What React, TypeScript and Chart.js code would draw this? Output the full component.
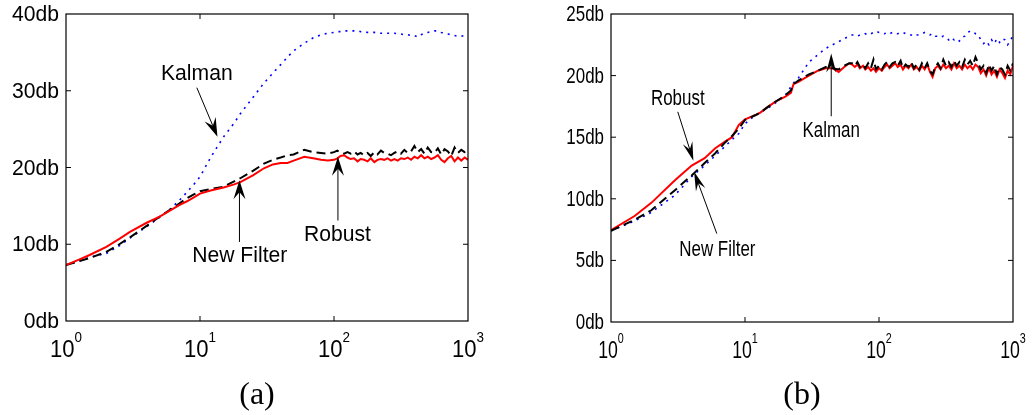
import React, { useEffect, useRef } from 'react';
import { Chart, registerables } from 'chart.js';
Chart.register(...registerables);

// ---------- data: panel (a) ----------
const leftX = [1, 1.25, 1.5, 2, 2.5, 3, 4, 5, 6, 7, 8, 9, 10, 12, 15, 18, 20, 25, 30, 35, 40, 45, 50, 60, 70, 80, 90, 100,
  106, 112, 119, 126, 133, 141, 150, 158, 168, 178, 188, 200, 211, 224, 237, 251, 266, 282, 299, 316, 335, 355, 376, 398,
  422, 447, 473, 501, 531, 562, 596, 631, 668, 708, 750, 794, 841, 891, 944, 1000];
const leftRobust = [7.3, 8.0, 8.6, 9.65, 10.7, 11.6, 12.8, 13.6, 14.4, 15.1, 15.6, 16.1, 16.6, 17.0, 17.4, 17.8, 18.1, 19.0, 19.9, 20.4, 20.6, 20.6, 20.9, 21.4, 21.2, 21.0, 20.9, 21.0,
  21.2, 21.5, 21.6, 21.3, 21.1, 21.2, 20.8, 21.1, 21.0, 20.8, 21.2, 20.7, 21.0, 21.1, 21.0, 21.2, 20.9, 21.1, 20.9, 21.2, 21.1, 21.3, 21.0, 21.4,
  21.2, 21.6, 21.2, 21.4, 21.1, 21.3, 21.6, 21.0, 20.7, 21.2, 21.5, 20.8, 21.3, 20.9, 21.3, 21.0];
const leftNewFilter = [7.3, 7.8, 8.2, 9.0, 10.0, 10.9, 12.4, 13.6, 14.5, 15.3, 16.0, 16.5, 16.9, 17.2, 17.5, 18.2, 18.6, 19.6, 20.5, 21.0, 21.3, 21.6, 21.7, 22.3, 22.0, 21.9, 21.8, 22.0,
  22.2, 21.9, 21.8, 22.0, 21.8, 22.1, 21.7, 21.9, 21.6, 21.9, 21.5, 22.0, 21.7, 22.2, 21.9, 21.8, 21.6, 21.9, 22.1, 21.8, 22.3, 21.9, 22.1, 22.8,
  22.0, 22.4, 21.8, 22.6, 22.0, 21.9, 22.5, 21.7, 22.4, 22.1, 21.5, 22.6, 21.9, 22.3, 22.0, 22.1];
const leftKalman = [7.3, 7.8, 8.3, 8.8, 9.8, 10.8, 12.3, 13.5, 14.6, 15.7, 16.8, 17.8, 18.8, 21.3, 24.0, 25.8, 27.0, 29.2, 31.0, 32.3, 33.4, 34.4, 35.2, 36.2, 36.9, 37.3, 37.5, 37.6,
  37.7, 37.7, 37.8, 37.8, 37.8, 37.8, 37.8, 37.7, 37.7, 37.6, 37.6, 37.6, 37.5, 37.5, 37.5, 37.5, 37.5, 37.5, 37.4, 37.4, 37.3, 37.3, 37.2, 37.2,
  37.0, 37.3, 37.5, 37.6, 37.7, 37.8, 37.8, 37.6, 37.5, 37.4, 37.3, 37.2, 37.1, 37.1, 37.2, 37.2];

// ---------- data: panel (b) ----------
const rightX = [1, 1.5, 2, 3, 4, 5, 6, 7, 8, 9, 10, 12, 13, 15, 17, 20, 22, 23, 25, 30, 35, 40, 45, 50, 55, 60,
  63, 66, 69, 72, 76, 79, 83, 87, 91, 95, 100, 105, 110, 115, 120, 126, 132, 138, 145, 151, 158, 166, 174, 182, 191,
  200, 209, 219, 229, 240, 251, 263, 275, 288, 302, 316, 331, 347, 363, 380, 398, 417, 437, 457, 479, 501, 525, 550,
  575, 603, 631, 661, 692, 724, 759, 794, 832, 871, 912, 955, 1000];
const rightRobust = [7.45, 8.6, 9.67, 11.5, 12.7, 13.3, 14.1, 14.6, 15.0, 16.0, 16.45, 16.8, 17.0, 17.5, 17.9, 18.3, 18.6, 19.3, 19.5, 20.0, 20.4, 20.6, 20.6, 20.3, 20.7, 21.0,
  20.9, 20.7, 20.9, 20.6, 20.8, 20.5, 20.7, 20.4, 20.6, 20.3, 20.6, 20.4, 20.7, 20.9, 20.6, 20.8, 21.0, 20.7, 20.9, 20.5,
  20.8, 20.6, 20.9, 20.5, 20.7, 20.4, 20.8, 20.5, 20.9, 20.3, 19.9, 20.6, 20.8, 20.5, 20.9, 20.6, 20.8, 20.5, 21.0, 20.6,
  20.8, 20.5, 20.9, 20.6, 20.8, 20.5, 20.9, 20.7, 20.2, 20.5, 20.0, 20.6, 20.1, 20.4, 19.9, 20.5, 20.2, 19.8, 20.4, 20.1, 20.8];
const rightNewFilter = [7.4, 8.3, 9.07, 10.7, 11.9, 12.9, 13.7, 14.5, 15.1, 15.7, 16.4, 16.8, 17.0, 17.5, 17.9, 18.4, 18.8, 19.3, 19.6, 20.1, 20.4, 20.7, 20.6, 20.5, 20.8, 21.0,
  21.0, 20.8, 21.1, 20.7, 20.9, 20.6, 21.0, 20.6, 21.3, 20.5, 20.8, 20.5, 20.9, 21.1, 20.7, 21.0, 21.1, 20.8, 21.2, 20.6,
  20.9, 20.7, 21.1, 20.6, 20.9, 20.5, 21.0, 20.6, 21.0, 20.4, 20.1, 20.7, 21.0, 20.6, 21.3, 20.8, 21.1, 20.7, 21.2, 20.8,
  21.1, 20.7, 21.3, 20.9, 21.2, 20.8, 21.5, 21.0, 20.5, 20.8, 20.2, 20.9, 20.4, 20.8, 20.1, 20.7, 20.5, 20.1, 20.8, 20.4, 21.0];
const rightKalman = [7.4, 8.2, 8.9, 10.3, 11.8, 12.7, 13.5, 14.2, 14.8, 15.3, 16.1, 16.8, 17.0, 17.4, 17.8, 18.4, 19.1, 19.4, 19.8, 21.1, 21.7, 22.2, 22.5, 22.75, 23.0, 23.2,
  23.3, 23.3, 23.2, 23.3, 23.3, 23.4, 23.3, 23.4, 23.5, 23.6, 23.5, 23.5, 23.4, 23.5, 23.4, 23.5, 23.4, 23.4, 23.5, 23.5,
  23.4, 23.3, 23.3, 23.2, 23.3, 23.3, 23.4, 23.5, 23.4, 23.3, 23.4, 23.2, 23.2, 23.1, 23.2, 23.1, 22.9, 23.1, 22.9, 23.0,
  22.8, 23.1, 23.2, 23.5, 23.6, 23.6, 23.4, 23.3, 22.9, 22.6, 22.8, 22.5, 22.9, 22.6, 23.0, 22.7, 23.0, 22.9, 22.5, 22.8, 23.3];

// ---------- axes ----------
const xDecades = [1, 10, 100, 1000];
const leftYMax = 40;
const leftYStep = 10;
const rightYMax = 25;
const rightYStep = 5;
const yUnit = 'db';

// ---------- annotations (data units) ----------
type Ann = { text: string; tx: number; ty: number; x0: number; y0: number; x1: number; y1: number };
const leftAnnotations: Ann[] = [
  { text: 'Kalman', tx: 9.47, ty: 32.2, x0: 9.47, y0: 30.4, x1: 13.5, y1: 24.0 },
  { text: 'New Filter', tx: 19.8, ty: 8.44, x0: 19.7, y0: 10.3, x1: 19.7, y1: 18.35 },
  { text: 'Robust', tx: 106, ty: 11.2, x0: 107, y0: 13.1, x1: 107, y1: 21.4 },
];
const rightAnnotations: Ann[] = [
  { text: 'Robust', tx: 3.15, ty: 18.07, x0: 3.15, y0: 17.06, x1: 4.12, y1: 13.08 },
  { text: 'New Filter', tx: 6.22, ty: 5.88, x0: 6.16, y0: 7.18, x1: 4.17, y1: 12.19 },
  { text: 'Kalman', tx: 44, ty: 15.5, x0: 44, y0: 16.7, x1: 44, y1: 21.8 },
];

const SANS = '"Liberation Sans", Arial, Helvetica, sans-serif';

function pts(xs: number[], ys: number[]) {
  return xs.map((x, i) => ({ x, y: ys[i] }));
}

function makeDecor(anns: Ann[], sx: number, headW: number) {
  return {
    id: 'decor',
    afterDatasetsDraw(chart: any) {
      const { ctx, chartArea: a, scales } = chart;
      const xs = scales.x;
      const ys = scales.y;
      ctx.save();
      // axes box
      ctx.strokeStyle = '#000';
      ctx.lineWidth = 1.2;
      ctx.strokeRect(a.left, a.top, a.right - a.left, a.bottom - a.top);
      // inner ticks
      ctx.lineWidth = 1;
      ctx.beginPath();
      ys.ticks.forEach((t: any) => {
        const py = ys.getPixelForValue(t.value);
        if (py > a.top + 1 && py < a.bottom - 1) {
          ctx.moveTo(a.left, py); ctx.lineTo(a.left + 5, py);
          ctx.moveTo(a.right, py); ctx.lineTo(a.right - 5, py);
        }
      });
      xDecades.forEach((v) => {
        const px = xs.getPixelForValue(v);
        if (px > a.left + 1 && px < a.right - 1) {
          ctx.moveTo(px, a.bottom); ctx.lineTo(px, a.bottom - 5);
          ctx.moveTo(px, a.top); ctx.lineTo(px, a.top + 5);
        }
      });
      ctx.stroke();
      ctx.fillStyle = '#000';
      // y tick labels
      ys.ticks.forEach((t: any) => {
        const py = ys.getPixelForValue(t.value);
        ctx.save();
        ctx.translate(a.left - 7, py);
        ctx.scale(sx, 1);
        ctx.font = `22px ${SANS}`;
        ctx.textAlign = 'right';
        ctx.textBaseline = 'middle';
        ctx.fillText(`${t.value}${yUnit}`, 0, 1);
        ctx.restore();
      });
      // x tick labels 10^n
      ctx.textBaseline = 'alphabetic';
      ctx.textAlign = 'left';
      xDecades.forEach((v) => {
        const px = xs.getPixelForValue(v);
        const exp = String(Math.round(Math.log10(v)));
        ctx.font = `23px ${SANS}`;
        const w1 = ctx.measureText('10').width;
        ctx.font = `14px ${SANS}`;
        const w2 = ctx.measureText(exp).width;
        const total = (w1 + w2) * sx;
        ctx.save();
        ctx.translate(px - total / 2, a.bottom);
        ctx.scale(sx, 1);
        ctx.font = `23px ${SANS}`;
        ctx.fillText('10', 0, 36);
        ctx.font = `14px ${SANS}`;
        ctx.fillText(exp, w1, 21);
        ctx.restore();
      });
      // annotations
      anns.forEach((an) => {
        const tx = xs.getPixelForValue(an.tx);
        const ty = ys.getPixelForValue(an.ty);
        ctx.save();
        ctx.translate(tx, ty);
        ctx.scale(sx, 1);
        ctx.font = `22px ${SANS}`;
        ctx.textAlign = 'center';
        ctx.textBaseline = 'middle';
        ctx.fillText(an.text, 0, 0);
        ctx.restore();
        const x0 = xs.getPixelForValue(an.x0);
        const y0 = ys.getPixelForValue(an.y0);
        const x1 = xs.getPixelForValue(an.x1);
        const y1 = ys.getPixelForValue(an.y1);
        const dx = x1 - x0, dy = y1 - y0;
        const len = Math.hypot(dx, dy) || 1;
        const ux = dx / len, uy = dy / len;
        const pxv = -uy, pyv = ux;
        const L = 19, N = 12;
        ctx.beginPath();
        ctx.lineWidth = 1;
        ctx.moveTo(x0, y0);
        ctx.lineTo(x1 - ux * N, y1 - uy * N);
        ctx.stroke();
        ctx.beginPath();
        ctx.moveTo(x1, y1);
        ctx.lineTo(x1 - ux * L + pxv * headW / 2, y1 - uy * L + pyv * headW / 2);
        ctx.lineTo(x1 - ux * N, y1 - uy * N);
        ctx.lineTo(x1 - ux * L - pxv * headW / 2, y1 - uy * L - pyv * headW / 2);
        ctx.closePath();
        ctx.fill();
      });
      ctx.restore();
    },
  };
}

function buildConfig(opts: {
  datasets: any[];
  yMax: number;
  yStep: number;
  yWidth: number;
  padRight: number;
  padBottom: number;
  anns: Ann[];
  sx: number;
  headW: number;
}) {
  return {
    type: 'line' as const,
    data: { datasets: opts.datasets },
    options: {
      animation: false,
      responsive: false,
      maintainAspectRatio: false,
      devicePixelRatio: 1,
      layout: { padding: { left: 0, top: 14, right: opts.padRight, bottom: opts.padBottom } },
      elements: { point: { radius: 0 }, line: { tension: 0 } },
      plugins: { legend: { display: false }, tooltip: { enabled: false } },
      scales: {
        x: { type: 'logarithmic', min: 1, max: 1000, display: false },
        y: {
          min: 0,
          max: opts.yMax,
          grid: { display: false, drawTicks: false },
          border: { display: false },
          ticks: { stepSize: opts.yStep, display: false },
          afterFit: (s: any) => { s.width = opts.yWidth; },
        },
      },
    },
    plugins: [makeDecor(opts.anns, opts.sx, opts.headW)],
  };
}

const robustStyle = { borderColor: '#ff0000', borderWidth: 2, fill: false };
const newFilterStyle = { borderColor: '#000000', borderWidth: 2, borderDash: [9, 5], fill: false };
const kalmanStyle = { borderColor: '#0000ff', borderWidth: 1.6, borderDash: [2, 5], fill: false };

function Panel(props: { which: 'a' | 'b'; width: number }) {
  const ref = useRef<HTMLCanvasElement | null>(null);
  useEffect(() => {
    if (!ref.current) return;
    const cfg =
      props.which === 'a'
        ? buildConfig({
            datasets: [
              { label: 'Robust', data: pts(leftX, leftRobust), ...robustStyle },
              { label: 'New Filter', data: pts(leftX, leftNewFilter), ...newFilterStyle },
              { label: 'Kalman', data: pts(leftX, leftKalman), ...kalmanStyle },
            ],
            yMax: leftYMax,
            yStep: leftYStep,
            yWidth: 66,
            padRight: 48,
            padBottom: 94,
            anns: leftAnnotations,
            sx: 0.96,
            headW: 12,
          })
        : buildConfig({
            datasets: [
              { label: 'New Filter', data: pts(rightX, rightNewFilter), ...newFilterStyle },
              { label: 'Robust', data: pts(rightX, rightRobust), ...robustStyle },
              { label: 'Kalman', data: pts(rightX, rightKalman), ...kalmanStyle },
            ],
            yMax: rightYMax,
            yStep: rightYStep,
            yWidth: 95,
            padRight: 20,
            padBottom: 93,
            anns: rightAnnotations,
            sx: 0.77,
            headW: 10,
          });
    const chart = new Chart(ref.current, cfg as any);
    return () => chart.destroy();
  }, [props.which]);
  return <canvas ref={ref} width={props.width} height={415} style={{ display: 'block' }} />;
}

export default function App() {
  const labelStyle: React.CSSProperties = {
    position: 'absolute',
    top: 393,
    transform: 'translate(-50%, -50%)',
    fontFamily: '"Liberation Serif", "Times New Roman", serif',
    fontSize: 32,
    lineHeight: 1,
    color: '#000',
    whiteSpace: 'nowrap',
  };
  return (
    <div style={{ position: 'fixed', left: 0, top: 0, width: 1033, height: 415, background: '#fff', overflow: 'hidden' }}>
      <div style={{ position: 'absolute', left: 0, top: 0 }}>
        <Panel which="a" width={516} />
      </div>
      <div style={{ position: 'absolute', left: 516, top: 0 }}>
        <Panel which="b" width={517} />
      </div>
      <div style={{ ...labelStyle, left: 257 }}>(a)</div>
      <div style={{ ...labelStyle, left: 802 }}>(b)</div>
    </div>
  );
}
